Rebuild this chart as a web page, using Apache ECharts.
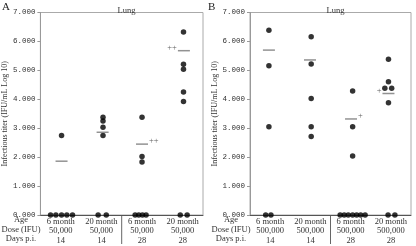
<!DOCTYPE html>
<html>
<head>
<meta charset="utf-8">
<script src="https://cdn.jsdelivr.net/npm/echarts@6/dist/echarts.min.js"></script>
<style>
  html, body { margin: 0; padding: 0; background: #fff; }
  #chart { width: 416px; height: 246px; }
</style>
</head>
<body>
<div id="chart"></div>
<script>
// 分组标签
const ageLabels = ['6 month', '20 month', '6 month', '20 month']
const doseA = ['50,000', '50,000', '50,000', '50,000']
const doseB = ['500,000', '500,000', '500,000', '500,000']
const daysPI = ['14', '14', '28', '28']
const rowHeads = ['Age', 'Dose (IFU)', 'Days p.i.']

// 单只动物滴度 [组内位置, log10 IFU/mL]
const pointsA = [
  [0.52, 2.75],
  [1.54, 3.38], [1.54, 3.25], [1.54, 3.03], [1.54, 2.75],
  [2.50, 3.38], [2.50, 2.02], [2.50, 1.83],
  [3.52, 6.33], [3.52, 5.21], [3.52, 5.04], [3.52, 4.25], [3.52, 3.92],
  [0.25, 0], [0.38, 0], [0.52, 0], [0.65, 0], [0.79, 0],
  [1.42, 0], [1.62, 0],
  [2.33, 0], [2.42, 0], [2.51, 0], [2.60, 0],
  [3.44, 0], [3.61, 0]
]
const pointsB = [
  [0.47, 6.39], [0.47, 5.16], [0.47, 3.05],
  [1.52, 6.16], [1.52, 5.22], [1.52, 4.03], [1.52, 3.05], [1.52, 2.71],
  [2.55, 4.29], [2.55, 3.05], [2.55, 2.04],
  [3.44, 5.38], [3.44, 4.61], [3.35, 4.38], [3.52, 4.38], [3.44, 3.88],
  [0.39, 0], [0.52, 0],
  [2.24, 0], [2.34, 0], [2.44, 0], [2.55, 0], [2.65, 0], [2.75, 0], [2.86, 0],
  [3.43, 0], [3.60, 0]
]

// 均值横线
const meansA = [[0.52, 1.86], [1.53, 2.86], [2.50, 2.45], [3.53, 5.68]]
const meansB = [[0.47, 5.70], [1.49, 5.36], [2.51, 3.32], [3.44, 4.20]]
const signsA = ['', '', '++', '++']
const signsB = ['', '', '+', '+']
const signSideA = ['right', 'right', 'right', 'left']
const signSideB = ['right', 'right', 'right', 'left']

const serif = '"Liberation Serif", "DejaVu Serif", serif'
const mono = '"Liberation Mono", "DejaVu Sans Mono", monospace'

function catLabels (dose) {
  return ageLabels.map((a, i) => a + '\n' + dose[i] + '\n' + daysPI[i])
}

function yAxisCfg (gi) {
  return {
    gridIndex: gi,
    type: 'value',
    min: 0,
    max: 7,
    interval: 1,
    name: 'Infectious titer (IFU/mL Log 10)',
    nameLocation: 'middle',
    nameGap: 30,
    nameTextStyle: { fontFamily: serif, fontSize: 8, color: '#333' },
    axisLine: { show: true, lineStyle: { color: '#999', width: 1 } },
    axisTick: { show: true, length: 3, lineStyle: { color: '#999' } },
    axisLabel: {
      fontFamily: mono,
      fontSize: 7.5,
      color: '#333',
      margin: 5,
      formatter: v => v.toFixed(3)
    },
    splitLine: { show: false }
  }
}

function valueX (gi) {
  return {
    gridIndex: gi,
    type: 'value',
    min: 0,
    max: 4,
    axisLine: { show: true, onZero: false, lineStyle: { color: '#555', width: 1 } },
    axisTick: { show: false },
    axisLabel: { show: false },
    splitLine: { show: false }
  }
}

function catX (gi, dose) {
  return {
    gridIndex: gi,
    type: 'category',
    data: catLabels(dose),
    position: 'bottom',
    axisLine: { show: false },
    axisTick: { show: false },
    axisLabel: {
      interval: 0,
      margin: 2,
      fontFamily: serif,
      fontSize: 8.5,
      lineHeight: 9.5,
      color: '#333'
    }
  }
}

function dotSeries (xi, yi, pts) {
  return {
    type: 'scatter',
    xAxisIndex: xi,
    yAxisIndex: yi,
    data: pts,
    symbol: 'circle',
    symbolSize: 5.5,
    itemStyle: { color: '#000' },
    silent: true
  }
}

function meanSeries (xi, yi, means, signs, sides) {
  return {
    type: 'scatter',
    xAxisIndex: xi,
    yAxisIndex: yi,
    data: means.map((m, i) => ({
      value: m,
      label: {
        show: signs[i] !== '',
        formatter: signs[i],
        position: sides[i],
        distance: 1,
        offset: [0, -3],
        fontFamily: serif,
        fontSize: 8.5,
        color: '#333'
      }
    })),
    symbol: 'rect',
    symbolSize: [12, 1.5],
    itemStyle: { color: '#777' },
    silent: true
  }
}

let myChart = echarts.init(document.getElementById('chart'))

myChart.setOption({
  animation: false,
  title: [
    { text: 'Lung', left: 121.5, top: 1, textAlign: 'center', textStyle: { fontFamily: serif, fontSize: 8.5, fontWeight: 'normal', color: '#333' } },
    { text: 'Lung', left: 330.5, top: 1, textAlign: 'center', textStyle: { fontFamily: serif, fontSize: 8.5, fontWeight: 'normal', color: '#333' } }
  ],
  grid: [
    { left: 40, top: 12.5, width: 163, height: 202.5, show: true, borderColor: '#aaa', borderWidth: 1, backgroundColor: 'transparent' },
    { left: 250, top: 12.5, width: 161, height: 202.5, show: true, borderColor: '#aaa', borderWidth: 1, backgroundColor: 'transparent' }
  ],
  xAxis: [valueX(0), catX(0, doseA), valueX(1), catX(1, doseB)],
  yAxis: [yAxisCfg(0), yAxisCfg(1)],
  series: [
    dotSeries(0, 0, pointsA),
    meanSeries(0, 0, meansA, signsA, signSideA),
    dotSeries(2, 1, pointsB),
    meanSeries(2, 1, meansB, signsB, signSideB)
  ]
})

// 行标题、面板字母和中间的分隔线
const rowY = [220, 229.5, 239]
let extras = []
;[21, 231].forEach(cx => {
  rowHeads.forEach((t, i) => {
    extras.push({
      type: 'text',
      x: cx,
      y: rowY[i],
      style: { text: t, fontFamily: serif, fontSize: 8.5, fill: '#333', align: 'center', verticalAlign: 'middle' }
    })
  })
})
extras.push({ type: 'text', x: 2, y: 7, style: { text: 'A', fontFamily: serif, fontSize: 11, fill: '#222', verticalAlign: 'middle' } })
extras.push({ type: 'text', x: 208, y: 7, style: { text: 'B', fontFamily: serif, fontSize: 11, fill: '#222', verticalAlign: 'middle' } })
;[0, 2].forEach(xi => {
  let px = myChart.convertToPixel({ xAxisIndex: xi }, 2)
  extras.push({
    type: 'line',
    shape: { x1: px, y1: 215, x2: px, y2: 244 },
    style: { stroke: '#666', lineWidth: 1 }
  })
})
myChart.setOption({ graphic: extras })
</script>
</body>
</html>
